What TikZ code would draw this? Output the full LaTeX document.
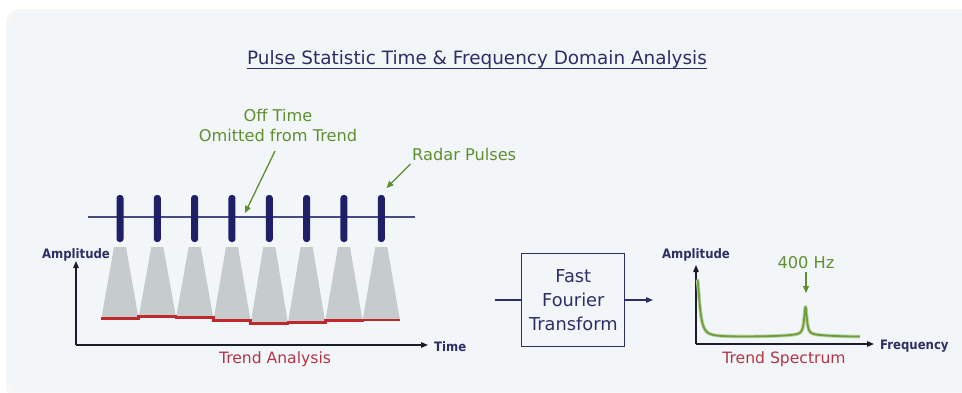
\documentclass[tikz,border=0pt]{standalone}
\usepackage{fontspec}
\setmainfont{DejaVu Sans}
\newfontfamily\condfont{DejaVu Sans Condensed}
\usetikzlibrary{arrows.meta}
\definecolor{bgcol}{HTML}{F2F6F9}
\definecolor{navy}{HTML}{2E2E66}
\definecolor{pulsecol}{HTML}{1F1F68}
\definecolor{linecol}{HTML}{4A4A82}
\definecolor{grn}{HTML}{5F8F2F}
\definecolor{grncurve}{HTML}{6E9E3C}
\definecolor{graytrap}{HTML}{C6CBCB}
\definecolor{redline}{HTML}{C0282E}
\definecolor{redtext}{HTML}{B43444}
\definecolor{axiscol}{HTML}{1C1C2C}
\tikzset{
  titlestyle/.style={text=navy, inner sep=0pt, font=\fontsize{18.4}{23}\selectfont},
  greenlabel/.style={text=grn, inner sep=0pt, font=\fontsize{16.2}{21}\selectfont, align=center},
  axislabel/.style={text=navy, inner sep=0pt, font=\condfont\fontsize{13}{15}\selectfont\bfseries},
  redlabel/.style={text=redtext, inner sep=0pt, font=\fontsize{15.6}{20}\selectfont},
  pulsebox/.style={fill=pulsecol, draw=none, minimum width=7pt, minimum height=47pt, inner sep=0pt, rounded corners=3pt},
  fftbox/.style={draw=navy, line width=1.3pt, fill=bgcol, minimum width=103pt, minimum height=93pt, inner sep=0pt, align=center, text=navy, font=\fontsize{17.8}{23.7}\selectfont},
  greenarrow/.style={draw=grn, line width=1.3pt, -{Triangle[length=7pt,width=6pt]}},
  axisarrow/.style={draw=axiscol, line width=1.3pt, -{Triangle[length=7pt,width=5.5pt]}},
  navyarrow/.style={draw=navy, line width=1.3pt, -{Triangle[length=7pt,width=5.5pt]}},
}
\begin{document}
\begin{tikzpicture}[x=1pt,y=-1pt]
\useasboundingbox (0,0) rectangle (962,392);
\begin{scope}
  \clip (0,0) rectangle (962,392);
  \fill[black!3, rounded corners=14pt] (6,9) rectangle (980,400);
  \fill[bgcol, rounded corners=12pt] (9,12) rectangle (975,391);
\end{scope}

% title
\node[titlestyle, anchor=base] (title) at (477,64) {Pulse Statistic Time \& Frequency Domain Analysis};
\draw[navy, line width=1.2pt] ([yshift=-4.5pt]title.base west) -- ([yshift=-4.5pt]title.base east);

% pulse line
\coordinate (pl0) at (88,217);
\coordinate (pl1) at (415,217);
\draw[linecol, line width=1.6pt] (pl0) -- (pl1);

% trapezoids, pulses and red trend
\foreach \i/\yb in {0/318.5,1/316.7,2/317.7,3/320.7,4/323.3,5/322.3,6/320.7,7/320} {
  \pgfmathsetmacro{\c}{120+37.33*\i}
  \fill[graytrap] (\c-6,247) -- (\c+6,247) -- (\c+18.6,\yb) -- (\c-18.6,\yb) -- cycle;
  \node[pulsebox] (p\i) at (\c,218.5) {};
}
\draw[redline, line width=2.6pt]
  (101.4,318.5) -- (138.7,318.5) -- (138.7,316.7) -- (176,316.7) -- (176,317.7)
  -- (213.3,317.7) -- (213.3,320.7) -- (250.7,320.7) -- (250.7,323.3) -- (288,323.3)
  -- (288,322.3) -- (325.3,322.3) -- (325.3,320.7) -- (362.7,320.7) -- (362.7,320)
  -- (400,320);

% left axes
\coordinate (o1) at (76,345);
\coordinate (yt1) at (76,261);
\coordinate (xt1) at (428,345);
\draw[axisarrow] (o1) -- (yt1);
\draw[axisarrow] (o1) -- (xt1);
\node[axislabel, anchor=base] (amp1) at (76,258) {Amplitude};
\node[axislabel, anchor=base west] (time) at (434,351) {Time};
\node[redlabel, anchor=base] (trendA) at (275,363) {Trend Analysis};

% green labels
\node[greenlabel, anchor=base] (offtime) at (278,121) {Off Time};
\node[greenlabel, anchor=base] (omitted) at (278,141.7) {Omitted from Trend};
\coordinate (offtip) at (245,213);
\draw[greenarrow] (275,151) -- (offtip);
\node[greenlabel, anchor=base west] (radar) at (412,160) {Radar Pulses};
\coordinate (radtip) at (386.5,188);
\draw[greenarrow] (410.5,164) -- (radtip);

% FFT box
\node[fftbox] (fft) at (573.3,300) {Fast\\Fourier\\Transform};
\coordinate (fin) at (495,300);
\coordinate (fout) at (653,300);
\draw[navy, line width=1.3pt] (fin) -- (fft.west);
\draw[navyarrow] (fft.east) -- (fout);

% spectrum axes
\coordinate (o2) at (696,344);
\coordinate (yt2) at (696,265);
\coordinate (xt2) at (874,344);
\draw[axisarrow] (o2) -- (yt2);
\draw[axisarrow] (o2) -- (xt2);
\node[axislabel, anchor=base] (amp2) at (696,258) {Amplitude};
\node[axislabel, anchor=base west] (freq) at (880,349) {Frequency};
\node[redlabel, anchor=base] (trendS) at (784,363) {Trend Spectrum};

% spectrum curve
\draw[grncurve!45, line width=3.6pt, line join=round]
  plot[domain=697.5:860, samples=500, smooth] (\x,{337 - 59/(1+((\x-697)/3)^2) - 28/(1+((\x-805.5)/1.6)^2) - 2.2/(1+((\x-805.5)/25)^2)});
\draw[grncurve, line width=1.8pt, line join=round]
  plot[domain=697.5:860, samples=500, smooth] (\x,{337 - 59/(1+((\x-697)/3)^2) - 28/(1+((\x-805.5)/1.6)^2) - 2.2/(1+((\x-805.5)/25)^2)});

% 400 Hz
\node[greenlabel, anchor=base] (hz) at (806,268.3) {400 Hz};
\coordinate (hztip) at (806,293);
\draw[greenarrow] (806,272) -- (hztip);
\end{tikzpicture}
\end{document}
